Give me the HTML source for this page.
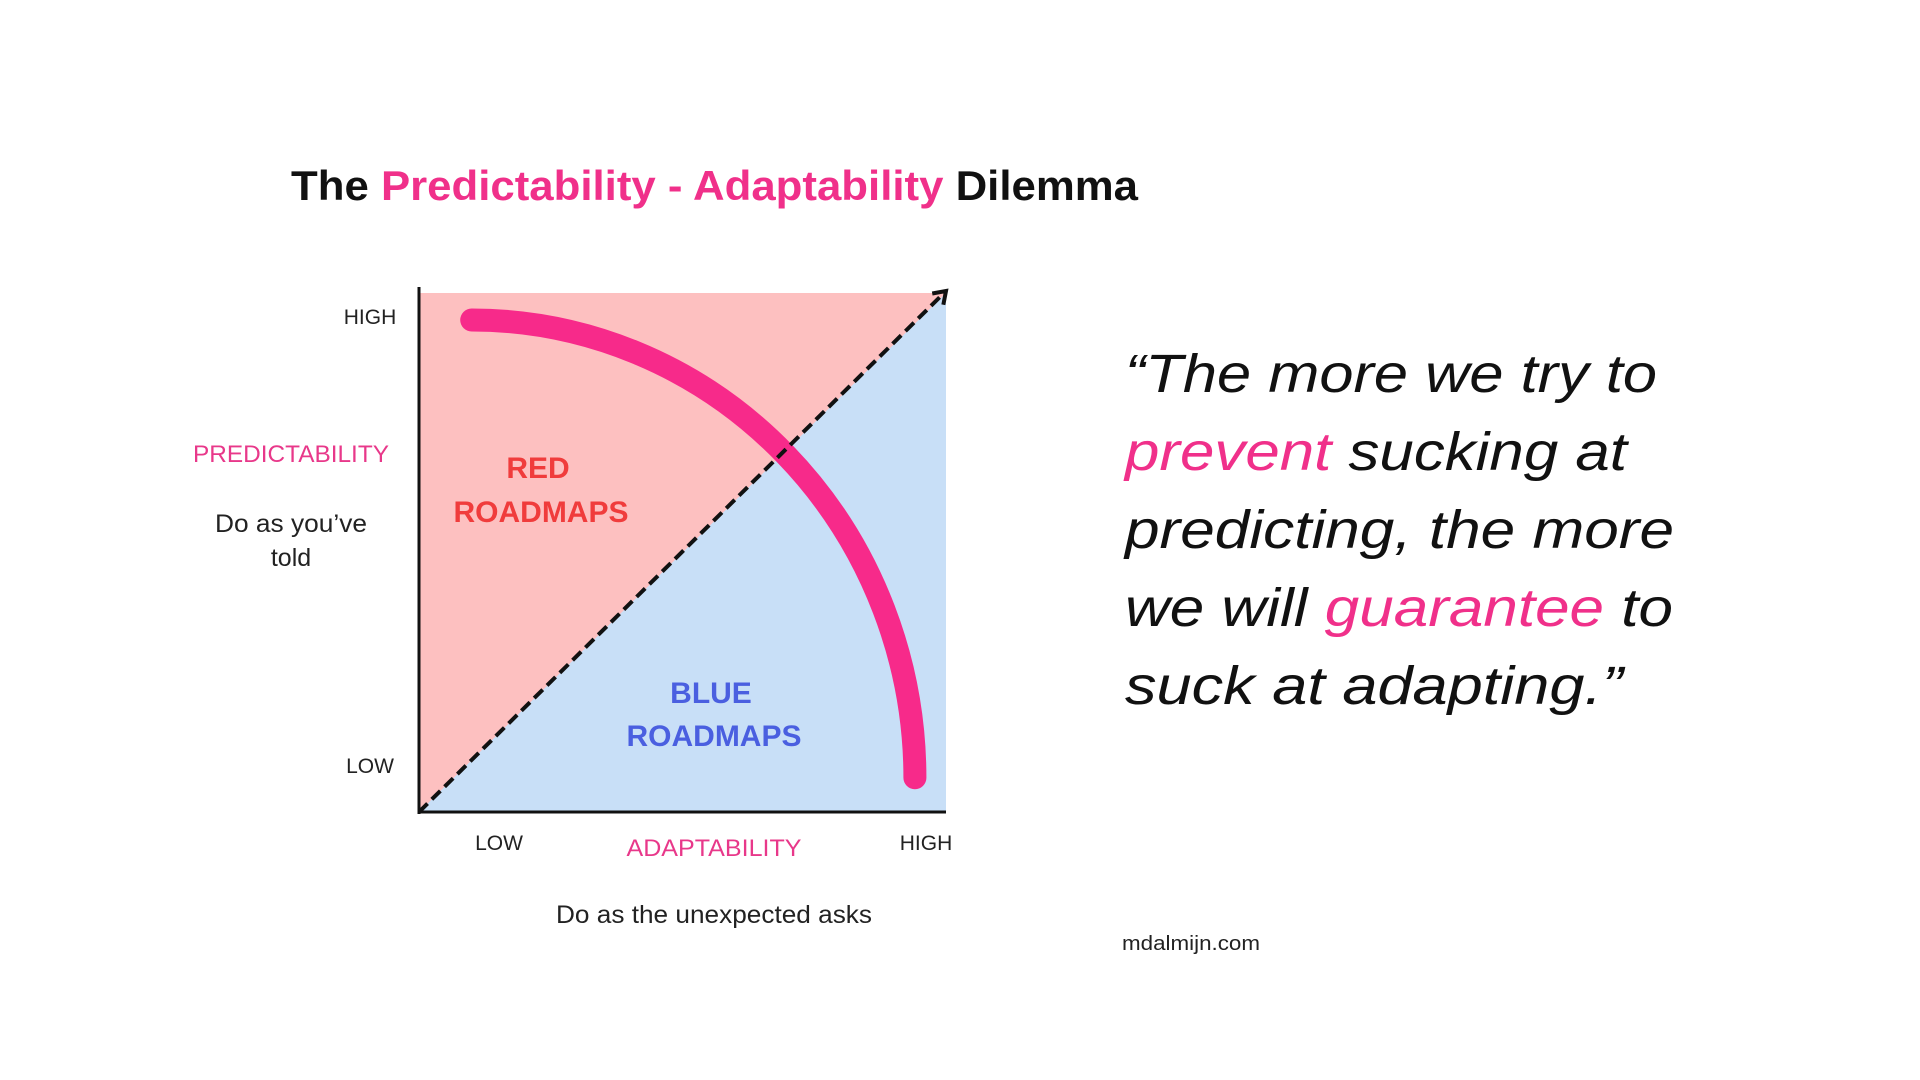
<!DOCTYPE html>
<html><head><meta charset="utf-8"><style>
html,body{margin:0;padding:0;background:#fff;}
svg{display:block;}
text{font-family:"Liberation Sans",sans-serif;}
</style></head><body>
<svg id="chart" width="1920" height="1080" viewBox="0 0 1920 1080" xmlns="http://www.w3.org/2000/svg">
<text x="291" y="200" font-size="42" font-weight="bold" textLength="847" lengthAdjust="spacingAndGlyphs" fill="#111">The <tspan fill="#f0308a">Predictability - Adaptability</tspan> Dilemma</text>
<g id="plot"></g>
<text x="370" y="324" font-size="21" text-anchor="middle" fill="#222">HIGH</text>
<text x="370" y="773" font-size="21" text-anchor="middle" fill="#222">LOW</text>
<text x="291" y="462" font-size="24" text-anchor="middle" fill="#e8388a" textLength="196" lengthAdjust="spacingAndGlyphs">PREDICTABILITY</text>
<text x="291" y="532" font-size="25" text-anchor="middle" fill="#222" textLength="152" lengthAdjust="spacingAndGlyphs">Do as you’ve</text>
<text x="291" y="566" font-size="25" text-anchor="middle" fill="#222">told</text>
<text x="499" y="850" font-size="21" text-anchor="middle" fill="#222">LOW</text>
<text x="714" y="856" font-size="24" text-anchor="middle" fill="#e8388a" textLength="175" lengthAdjust="spacingAndGlyphs">ADAPTABILITY</text>
<text x="926" y="850" font-size="21" text-anchor="middle" fill="#222">HIGH</text>
<text x="714" y="923" font-size="25" text-anchor="middle" fill="#222" textLength="316" lengthAdjust="spacingAndGlyphs">Do as the unexpected asks</text>
<text font-size="30" font-weight="bold" text-anchor="middle" fill="#f03c3c"><tspan x="538" y="478">RED</tspan><tspan x="541" y="522">ROADMAPS</tspan></text>
<text font-size="30" font-weight="bold" text-anchor="middle" fill="#4a5fe0"><tspan x="711" y="703">BLUE</tspan><tspan x="714" y="746">ROADMAPS</tspan></text>
<g font-size="54" font-style="italic" fill="#111">
<text x="1125" y="392" textLength="532" lengthAdjust="spacingAndGlyphs">“The more we try to</text>
<text x="1125" y="470" textLength="502" lengthAdjust="spacingAndGlyphs"><tspan fill="#f0308a">prevent</tspan> sucking at</text>
<text x="1125" y="548" textLength="549" lengthAdjust="spacingAndGlyphs">predicting, the more</text>
<text x="1125" y="626" textLength="548" lengthAdjust="spacingAndGlyphs">we will <tspan fill="#f0308a">guarantee</tspan> to</text>
<text x="1125" y="704" textLength="498" lengthAdjust="spacingAndGlyphs">suck at adapting.”</text>
</g>
<text x="1122" y="950" font-size="20" fill="#222" textLength="138" lengthAdjust="spacingAndGlyphs">mdalmijn.com</text>
</svg>
<script>
// data (axis units 0..10)
const xDomain = [0, 10];
const yDomain = [0, 10];
const curveX = [1.0, 9.41];
const curveY = [9.48, 0.66];
const diagX = [0, 10];
const diagY = [0, 10];

const X0 = 419, X1 = 946, Y0 = 812, Y1 = 293;
function sx(v){ return X0 + (v - xDomain[0]) / (xDomain[1] - xDomain[0]) * (X1 - X0); }
function sy(v){ return Y0 - (v - yDomain[0]) / (yDomain[1] - yDomain[0]) * (Y0 - Y1); }
const NS = 'http://www.w3.org/2000/svg';
const g = document.getElementById('plot');
function mk(tag, attrs){ const e = document.createElementNS(NS, tag); for (const k in attrs) e.setAttribute(k, attrs[k]); g.appendChild(e); return e; }

const bg = mk('rect', {x: sx(0), y: sy(10), width: sx(10)-sx(0), height: sy(0)-sy(10), fill: '#fdc0c0'});


const blue = mk('polygon', {points: `${sx(0)},${sy(0)} ${sx(10)},${sy(10)} ${sx(10)},${sy(0)}`, fill: '#c8dff7'});



const x1 = sx(curveX[0]), y1 = sy(curveY[0]), x2 = sx(curveX[1]), y2 = sy(curveY[1]);
const curve = mk('path', {d: `M${x1},${y1} A${x2-x1},${y2-y1} 0 0 1 ${x2},${y2}`, fill: 'none', stroke: '#f72a8a', 'stroke-width': 23, 'stroke-linecap': 'round'});



const dx0 = sx(diagX[0]), dy0 = sy(diagY[0]), dx1 = sx(diagX[1]), dy1 = sy(diagY[1]) - 2;
const diag = mk('line', {x1: dx0, y1: dy0, x2: dx1, y2: dy1, stroke: '#111', 'stroke-width': 4, 'stroke-dasharray': '12 6'});


const ang = Math.atan2(dy1 - dy0, dx1 - dx0), L = 14;
const ah = mk('polyline', {points: `${dx1 + L*Math.cos(ang+Math.PI-0.6)},${dy1 + L*Math.sin(ang+Math.PI-0.6)} ${dx1},${dy1} ${dx1 + L*Math.cos(ang+Math.PI+0.6)},${dy1 + L*Math.sin(ang+Math.PI+0.6)}`, fill: 'none', stroke: '#111', 'stroke-width': 4});



const ya = mk('line', {x1: X0, y1: 287, x2: X0, y2: Y0 + 2, stroke: '#111', 'stroke-width': 3});


const xa = mk('line', {x1: X0 - 1, y1: Y0, x2: X1, y2: Y0, stroke: '#111', 'stroke-width': 3});


</script>
</body></html>
